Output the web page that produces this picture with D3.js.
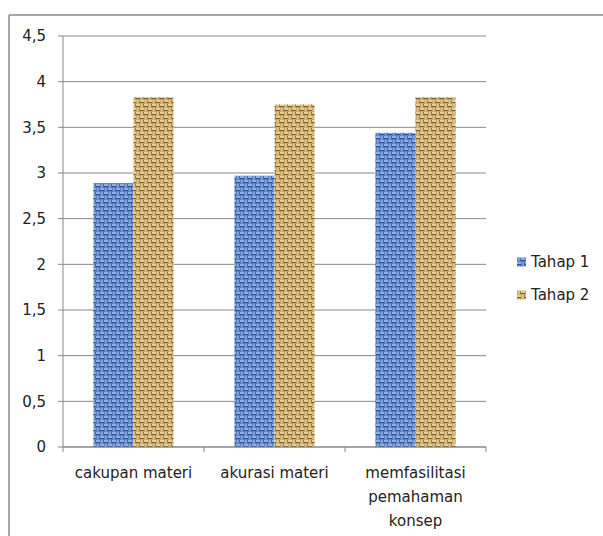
<!DOCTYPE html>
<html>
<head>
<meta charset="utf-8">
<script src="https://cdn.jsdelivr.net/npm/d3@7"></script>
<style>
  body { margin: 0; background: #fff; }
  text { font-family: "DejaVu Sans", sans-serif; fill: #222; }
</style>
</head>
<body>
<script>
// data
const categories = ["cakupan materi", "akurasi materi", "memfasilitasi pemahaman konsep"];
const categoryLines = [["cakupan materi"], ["akurasi materi"], ["memfasilitasi", "pemahaman", "konsep"]];
const seriesNames = ["Tahap 1", "Tahap 2"];
const tahap1 = [2.89, 2.97, 3.44];
const tahap2 = [3.83, 3.75, 3.83];
const yTicks = [0, 0.5, 1, 1.5, 2, 2.5, 3, 3.5, 4, 4.5];

const width = 603, height = 536;
const margin = { top: 36, left: 63, right: 117, bottom: 89 };

const svg = d3.select("body").append("svg")
  .attr("width", width)
  .attr("height", height);

// textures for the bars (woven look)
const defs = svg.append("defs");
function weave(id, base, light, dark) {
  const p = defs.append("pattern")
    .attr("id", id)
    .attr("patternUnits", "userSpaceOnUse")
    .attr("width", 8).attr("height", 8);
  p.append("rect").attr("width", 8).attr("height", 8).attr("fill", base);
  // horizontal threads
  p.append("rect").attr("x", 0).attr("y", 0).attr("width", 4).attr("height", 2).attr("fill", light);
  p.append("rect").attr("x", 4).attr("y", 4).attr("width", 4).attr("height", 2).attr("fill", light);
  // vertical threads
  p.append("rect").attr("x", 5).attr("y", 0).attr("width", 2).attr("height", 3).attr("fill", light).attr("opacity", 0.7);
  p.append("rect").attr("x", 1).attr("y", 4).attr("width", 2).attr("height", 3).attr("fill", light).attr("opacity", 0.7);
  // shadows
  p.append("rect").attr("x", 0).attr("y", 2).attr("width", 4).attr("height", 1).attr("fill", dark);
  p.append("rect").attr("x", 4).attr("y", 6).attr("width", 4).attr("height", 1).attr("fill", dark);
  p.append("rect").attr("x", 7).attr("y", 0).attr("width", 1).attr("height", 3).attr("fill", dark).attr("opacity", 0.6);
  p.append("rect").attr("x", 3).attr("y", 4).attr("width", 1).attr("height", 3).attr("fill", dark).attr("opacity", 0.6);
}
weave("blueWeave", "#5a80c8", "#8fafe2", "#304f92");
weave("tanWeave", "#cba867", "#e6cf98", "#7a5a26");
const fills = ["url(#blueWeave)", "url(#tanWeave)"];

// outer frame (top and left edges visible)
svg.append("line")
  .attr("x1", 9).attr("y1", 15).attr("x2", 603).attr("y2", 15)
  .attr("stroke", "#8a8a8a").attr("stroke-width", 1.5);
svg.append("line")
  .attr("x1", 9).attr("y1", 15).attr("x2", 9).attr("y2", 536)
  .attr("stroke", "#8a8a8a").attr("stroke-width", 1.5);

const x = d3.scaleBand()
  .domain(categories)
  .range([margin.left, width - margin.right]);

const xInner = d3.scaleBand()
  .domain(seriesNames)
  .range([0, x.bandwidth()])
  .paddingOuter(0.76)
  .paddingInner(0);

const y = d3.scaleLinear()
  .domain([0, 4.5])
  .range([height - margin.bottom, margin.top]);

// gridlines
svg.append("g")
  .selectAll("line")
  .data(yTicks)
  .join("line")
  .attr("x1", margin.left - 5)
  .attr("x2", width - margin.right)
  .attr("y1", d => y(d))
  .attr("y2", d => y(d))
  .attr("stroke", "#888")
  .attr("stroke-width", 1);

// y tick labels
svg.append("g")
  .selectAll("text")
  .data(yTicks)
  .join("text")
  .attr("x", margin.left - 17)
  .attr("y", d => y(d))
  .attr("dy", "0.35em")
  .attr("text-anchor", "end")
  .style("font-size", "15px")
  .text(d => String(d).replace(".", ","));

// bars
const series = [tahap1, tahap2];
series.forEach((vals, si) => {
  svg.append("g")
    .selectAll("rect")
    .data(categories)
    .join("rect")
    .attr("x", (c) => x(c) + xInner(seriesNames[si]))
    .attr("width", xInner.bandwidth())
    .attr("y", (c, i) => y(vals[i]))
    .attr("height", (c, i) => y(0) - y(vals[i]))
    .attr("fill", fills[si]);
});

// axes lines
svg.append("line")
  .attr("x1", margin.left).attr("x2", margin.left)
  .attr("y1", y(4.5)).attr("y2", y(0))
  .attr("stroke", "#888");
svg.append("line")
  .attr("x1", margin.left).attr("x2", width - margin.right)
  .attr("y1", y(0)).attr("y2", y(0))
  .attr("stroke", "#888");

// category tick marks
const bounds = categories.map(c => x(c)).concat([x.range()[1]]);
svg.append("g")
  .selectAll("line")
  .data(bounds)
  .join("line")
  .attr("x1", d => d).attr("x2", d => d)
  .attr("y1", y(0)).attr("y2", y(0) + 5)
  .attr("stroke", "#888");

// category labels
svg.append("g")
  .selectAll("text")
  .data(categories)
  .join("text")
  .attr("x", c => x(c) + x.bandwidth() / 2)
  .attr("y", y(0) + 31)
  .attr("text-anchor", "middle")
  .style("font-size", "15px")
  .each(function (c, i) {
    const t = d3.select(this);
    categoryLines[i].forEach((line, li) => {
      t.append("tspan")
        .attr("x", x(c) + x.bandwidth() / 2)
        .attr("dy", li === 0 ? 0 : 24)
        .text(line);
    });
  });

// legend
const legend = svg.append("g")
  .attr("transform", "translate(517, 262)");
seriesNames.forEach((name, i) => {
  const g = legend.append("g").attr("transform", `translate(0, ${i * 33})`);
  g.append("rect")
    .attr("x", 0).attr("y", -4.5)
    .attr("width", 9).attr("height", 9)
    .attr("fill", fills[i]);
  g.append("text")
    .attr("x", 14)
    .attr("y", 0)
    .attr("dy", "0.35em")
    .style("font-size", "15px")
    .text(name);
});
</script>
</body>
</html>
